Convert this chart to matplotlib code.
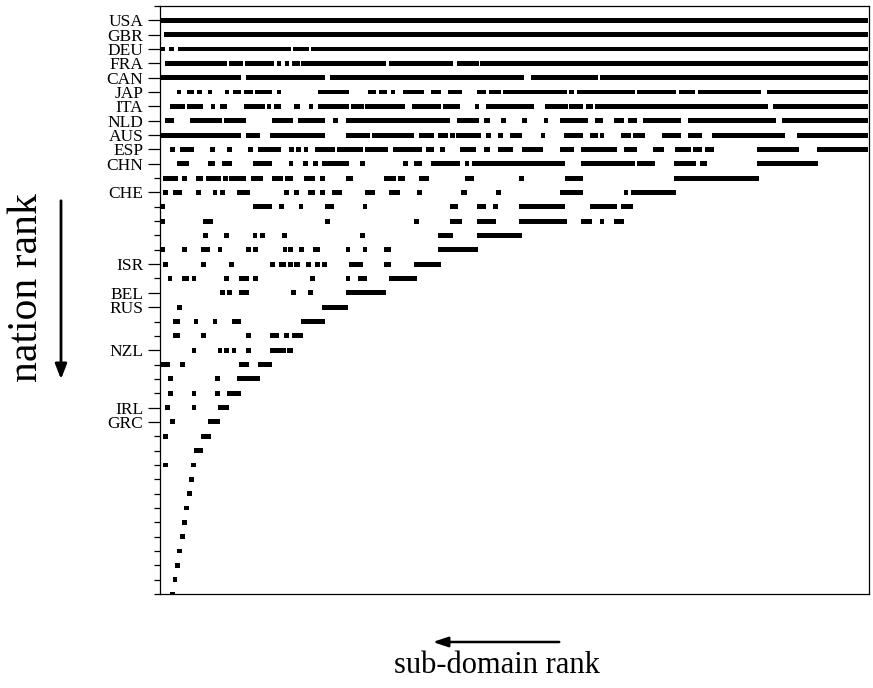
import matplotlib
matplotlib.use("Agg")
import matplotlib.pyplot as plt

plt.rcParams['font.family'] = ['Liberation Serif', 'DejaVu Serif']

# rows = nations (rank 0 at top), runs of occupied sub-domain ranks (start, end)
presence = [
    [(0, 300)],
    [(1.5, 300)],
    [(0, 2.2), (3.6, 6.1), (7.5, 55.5), (56.2, 63.3), (64, 300)],
    [(2.3, 28.3), (29.2, 35), (36.2, 48.5), (49.6, 51.3), (53, 54.6), (56, 59.1), (59.8, 95.8),
     (96.9, 124), (125.8, 135), (135.6, 300)],
    [(0, 34.4), (36.5, 69.7), (72.1, 154.3), (157.4, 185.4), (186.4, 300)],
    [(7.3, 9.1), (11.5, 14.6), (15.6, 17.9), (20.2, 22.1), (27.4, 29.4), (31.1, 34.4), (35.4, 39.3),
     (40.3, 47.3), (49.6, 51.3), (66.8, 79.9), (88, 91.5), (92.9, 96), (97.9, 99.7), (102.8, 111.7),
     (114.8, 119.1), (121.9, 128), (134.3, 138.1), (139.2, 144.5), (145.4, 172.4), (173.4, 175.2),
     (176.5, 201.3), (201.9, 218.8), (220, 226.7), (228, 254.8), (257.1, 300)],
    [(4.3, 10.4), (11.3, 18.1), (21.4, 23.1), (25.5, 28.3), (35.4, 44.5), (45.4, 47.1), (48.2, 51.3),
     (56.9, 59.1), (63, 64.7), (66.8, 80.2), (81, 86.6), (86.9, 103.8), (106.8, 119.1), (119.7, 127.1),
     (133.5, 135.3), (138.2, 158.6), (163.3, 172.7), (173.4, 179.4), (180.5, 183.3), (184.4, 257.8),
     (259.9, 300)],
    [(2.3, 6.1), (12.5, 26.3), (27.3, 36.5), (47.3, 56.5), (58.6, 69.7), (73.5, 75.3), (78.8, 123),
     (125.8, 135), (137.4, 139.8), (144.5, 146.4), (153.4, 155.4), (162.5, 164.4), (169.4, 181.4),
     (184.4, 187.5), (192.4, 196.4), (198.5, 202.3), (204.7, 220.9), (223.8, 260.9), (263.7, 300)],
    [(0, 34.4), (36.5, 42.4), (46.4, 69.7), (78.8, 89), (89.8, 107.8), (109.9, 115.9), (117.9, 121.9),
     (122.9, 125), (125.4, 136), (138.2, 140.2), (143.3, 145.3), (148.3, 153.4), (161.3, 163.3),
     (171.3, 179.4), (182.4, 185.4), (186.3, 188.3), (195.3, 199.5), (200.5, 205.4), (212.9, 220.9),
     (223.9, 229.8), (233.8, 264.9), (269.8, 300)],
    [(4.2, 6.2), (8.3, 14.3), (21.3, 23.3), (28.5, 30.5), (37.4, 39.4), (41.4, 51.3), (54.7, 56.7),
     (57.6, 59.6), (60.8, 62.8), (65.8, 74.3), (75, 85.9), (86.9, 96.7), (98.9, 111), (112.7, 115.9),
     (118.8, 120.9), (127.2, 133.9), (137.4, 139.8), (143.3, 149.4), (153.4, 162.4), (169.4, 175.5),
     (178.3, 193.6), (196.4, 202.3), (208.7, 213.6), (218, 224.9), (225.9, 229.8), (230.8, 234.8),
     (252.9, 270.8), (278.5, 300)],
    [(7.3, 12.2), (20.2, 23.1), (26.3, 30.4), (39.3, 47.3), (54.6, 56.4), (60.6, 62.5), (64.7, 66.8),
     (68.7, 79.9), (84.9, 86.9), (102.8, 104.9), (107.8, 111), (114.8, 127.1), (129.3, 131.1),
     (132.2, 171.6), (178.3, 201.3), (201.9, 209.7), (217.8, 227), (228.8, 231.9), (252.9, 278.9)],
    [(1.2, 7.8), (9.5, 11.5), (15.3, 18.1), (19.6, 25.9), (26.6, 28.7), (29.4, 36.5), (38.6, 43.5),
     (47.3, 52), (53, 56.2), (60.8, 65.8), (67.9, 69.9), (78.8, 81.6), (95.1, 100), (100.7, 103.8),
     (109.9, 113.8), (129.3, 132.9), (152.1, 154.3), (171.6, 179.4), (217.8, 253.8)],
    [(1.4, 3.4), (5.4, 9.2), (15.2, 17.2), (22.3, 24.3), (25.4, 27.4), (32.5, 38.3), (52.6, 54.6),
     (56.8, 58.8), (62.9, 65.8), (67.9, 69.9), (72.7, 77), (86.9, 91.1), (96.9, 101.8), (108.9, 110.9),
     (127.5, 129.9), (142.3, 144.5), (169.4, 179.4), (196.4, 198.4), (199.5, 218.8)],
    [(0, 2.3), (39.3, 47.3), (50.4, 52.4), (58.7, 60.7), (69.9, 73.9), (85.8, 87.8), (122.9, 126.1),
     (134.3, 138.1), (141.3, 143.4), (152.1, 171.6), (182.3, 193.6), (195.3, 200.5)],
    [(0, 2.3), (18.4, 22.4), (69.9, 71.9), (107.8, 109.9), (122.9, 128), (134.3, 142.3), (152.1, 172.4),
     (178.3, 183.2), (186.3, 188.3), (192.4, 196.4)],
    [(18.3, 20.3), (27.2, 29.2), (39.2, 41.2), (42.3, 44.3), (51.7, 53.7), (84.9, 86.9), (117.9, 124),
     (134.3, 153.4)],
    [(0, 2.3), (9.3, 11.3), (17.4, 21.3), (24.4, 26.4), (36.4, 38.4), (39.3, 41.4), (51.9, 53.9),
     (54.1, 56.2), (58.8, 60.8), (64.7, 67.8), (78.7, 80.7), (85.8, 87.8), (95.1, 97.9), (117.9, 134.9)],
    [(1.4, 3.4), (17.3, 19.3), (29.3, 31.3), (46.6, 48.6), (50.6, 53.4), (54.1, 56.2), (56.7, 59.1),
     (61.8, 63.8), (65.8, 67.8), (68.7, 70.8), (79.9, 85.9), (95.1, 97.9), (107.8, 119.1)],
    [(3.2, 5.2), (9.4, 12.2), (13.4, 15.4), (27.2, 29.2), (33.4, 37.5), (39.3, 41.4), (63.7, 65.8),
     (78.7, 80.7), (83.7, 87.7), (96.9, 108.9)],
    [(25.4, 27.4), (28.4, 30.4), (33.4, 37.5), (55.7, 57.7), (62.8, 64.8), (78.8, 95.8)],
    [(7.2, 9.2), (68.7, 79.8)],
    [(5.4, 8.3), (14.3, 16.3), (22.3, 24.3), (30.4, 34.4), (59.8, 69.9)],
    [(5.4, 8.3), (17.3, 19.3), (36.4, 38.4), (46.4, 50.3), (52.5, 54.5), (55.8, 60.5)],
    [(13.4, 15.4), (24.4, 26.4), (27.2, 29.2), (30.3, 32.3), (36.4, 38.4), (46.4, 53.4), (53.9, 56.2)],
    [(0, 4.3), (8.3, 10.4), (33.4, 37.5), (41.4, 47.3)],
    [(3.3, 5.4), (23.4, 25.5), (32.5, 42.4)],
    [(3.3, 5.4), (13.4, 15.4), (23.4, 25.5), (28.5, 34.4)],
    [(2.3, 4.4), (13.4, 15.4), (24.5, 29.4)],
    [(4.3, 6.4), (20.2, 25.5)],
    [(1.2, 3.3), (17.4, 21.4)],
    [(14.3, 18.4)],
    [(1.3, 3.3), (13.3, 15.3)],
    [(12.3, 14.3)],
    [(11.4, 13.4)],
    [(10.3, 12.3)],
    [(9.4, 11.4)],
    [(8.4, 10.4)],
    [(7.3, 9.3)],
    [(6.3, 8.3)],
    [(5.3, 7.3)],
    [(4.3, 6.3)],
]

nation_labels = ['USA', 'GBR', 'DEU', 'FRA', 'CAN', 'JAP', 'ITA', 'NLD', 'AUS', 'ESP', 'CHN',
                 'CHE', 'ISR', 'BEL', 'RUS', 'NZL', 'IRL', 'GRC']
nation_rows = [0, 1, 2, 3, 4, 5, 6, 7, 8, 9, 10, 12, 17, 19, 20, 23, 27, 28]

n_subdomains = 300.4
h = 0.34

fig = plt.figure(figsize=(8.73, 6.88), dpi=100)
ax = fig.add_axes([0.1833, 0.1366, 0.8121, 0.8547])

for i, runs in enumerate(presence):
    ax.broken_barh([(s, e - s) for s, e in runs], (i - h / 2, h), facecolors='black', edgecolor='none')

ax.set_xlim(0, n_subdomains)
ax.set_ylim(len(presence) - 1, -1)
ax.set_xticks([])
ax.set_yticks(nation_rows)
ax.set_yticklabels(nation_labels, fontsize=12.5)
ax.set_yticks([r for r in range(-1, len(presence)) if r not in nation_rows], minor=True)
ax.tick_params(axis='y', which='major', length=8.6, width=0.9, pad=3.5)
ax.tick_params(axis='y', which='minor', length=4.3, width=0.9)
for sp in ax.spines.values():
    sp.set_linewidth(0.9)

# axis titles with arrows
fig.text(0.031, 0.582, 'nation rank', rotation=90, fontsize=30, ha='center', va='center')
fig.text(0.569, 0.033, 'sub-domain rank', fontsize=22, ha='center', va='center')
ax.annotate('', xy=(61, 306), xytext=(61, 490), xycoords='figure pixels', textcoords='figure pixels',
            arrowprops=dict(arrowstyle='-|>,head_length=0.9,head_width=0.35', lw=2, color='black'))
ax.annotate('', xy=(430, 46), xytext=(562, 46), xycoords='figure pixels', textcoords='figure pixels',
            arrowprops=dict(arrowstyle='-|>,head_length=0.9,head_width=0.3', lw=1.8, color='black'))

plt.savefig('out.png', dpi=100)
